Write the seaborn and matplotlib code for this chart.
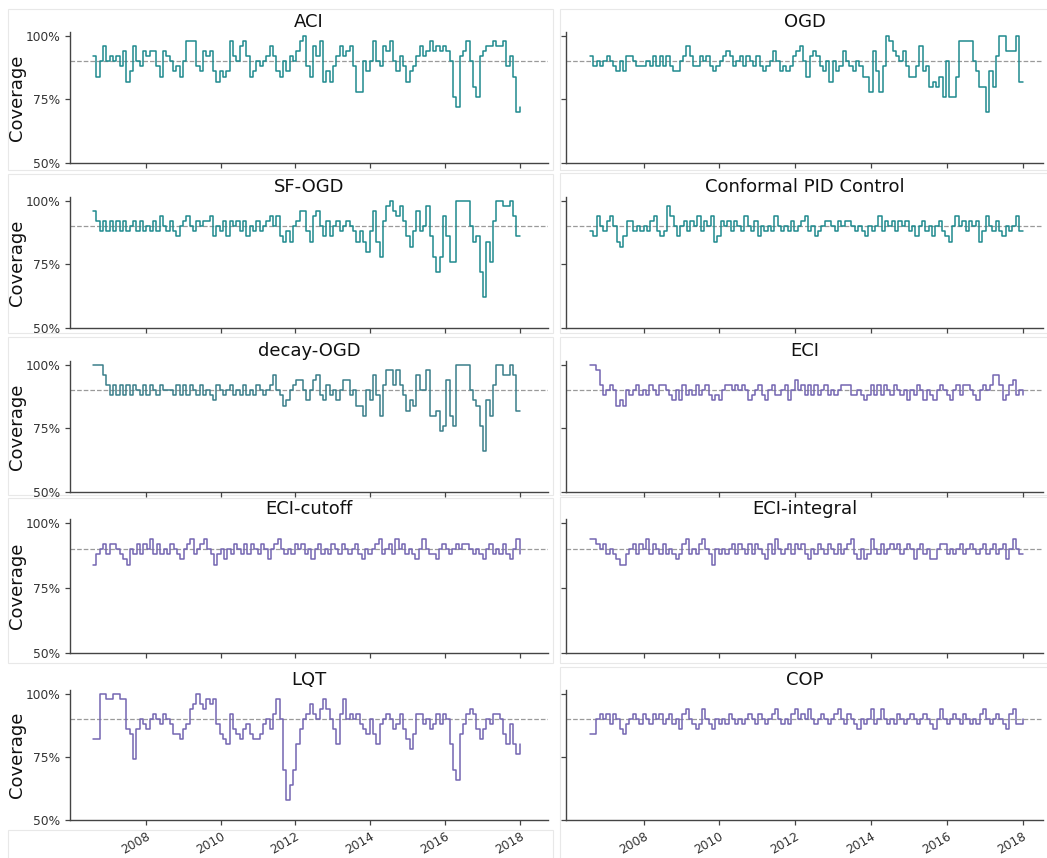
import numpy as np
import pandas as pd
import matplotlib
matplotlib.use("Agg")
import matplotlib.pyplot as plt
import matplotlib.dates as mdates
from matplotlib.ticker import PercentFormatter, FixedLocator, NullFormatter
from matplotlib.patches import Rectangle
import seaborn as sns

# ---------------- data (coverage in %) ----------------
titles = ["ACI", "OGD", "SF-OGD", "Conformal PID Control", "decay-OGD", "ECI",
          "ECI-cutoff", "ECI-integral", "LQT", "COP"]

aci = [92, 84, 90, 96, 90, 92, 90, 92, 88, 94, 82, 86, 96, 90, 88, 94, 92, 94, 94, 88,
       84, 94, 92, 90, 86, 88, 84, 90, 98, 98, 98, 88, 86, 94, 92, 94, 86, 82, 86, 84,
       86, 98, 92, 90, 96, 98, 92, 84, 86, 90, 88, 90, 92, 96, 92, 86, 84, 90, 86, 92,
       90, 94, 98, 100, 88, 84, 96, 92, 98, 82, 86, 82, 88, 92, 96, 92, 94, 96, 88, 78,
       78, 90, 86, 90, 98, 90, 88, 96, 94, 98, 90, 86, 92, 88, 82, 86, 88, 92, 96, 92,
       94, 98, 94, 96, 94, 96, 94, 90, 76, 72, 92, 94, 98, 90, 80, 76, 92, 94, 96, 96,
       98, 96, 96, 98, 88, 92, 84, 70, 72]

ogd = [92, 88, 90, 88, 90, 92, 90, 88, 86, 90, 86, 92, 92, 90, 88, 88, 88, 90, 88, 92,
       88, 92, 88, 92, 88, 86, 86, 90, 92, 96, 92, 88, 88, 92, 90, 92, 88, 86, 88, 90,
       92, 94, 92, 88, 90, 92, 88, 92, 90, 88, 92, 88, 86, 88, 90, 94, 90, 86, 88, 86,
       88, 92, 94, 96, 90, 84, 92, 94, 92, 88, 86, 90, 82, 90, 86, 88, 94, 90, 88, 86,
       90, 88, 84, 84, 78, 94, 86, 78, 88, 100, 98, 94, 92, 90, 94, 88, 84, 84, 88, 96,
       86, 88, 80, 82, 80, 84, 76, 90, 76, 76, 84, 98, 98, 98, 98, 90, 86, 80, 80, 70,
       86, 80, 92, 100, 100, 94, 94, 94, 100, 82, 82]

sf_ogd = [96, 92, 88, 92, 88, 92, 88, 92, 88, 92, 88, 90, 92, 88, 92, 88, 90, 88, 92, 88,
          94, 90, 88, 92, 88, 86, 90, 92, 94, 90, 88, 92, 90, 92, 92, 94, 86, 90, 88, 92,
          86, 92, 90, 92, 88, 92, 86, 90, 88, 92, 88, 90, 92, 94, 90, 94, 86, 84, 88, 84,
          90, 92, 96, 96, 88, 84, 94, 96, 90, 86, 92, 86, 90, 92, 88, 90, 92, 90, 88, 84,
          88, 84, 80, 88, 96, 84, 78, 92, 98, 100, 96, 94, 98, 92, 86, 82, 88, 96, 88, 90,
          98, 86, 78, 72, 78, 94, 86, 76, 76, 100, 100, 100, 100, 90, 84, 86, 72, 62, 84, 76,
          92, 100, 100, 98, 98, 100, 94, 86, 86]

pid = [88, 86, 94, 90, 88, 92, 94, 90, 84, 82, 86, 92, 92, 88, 90, 88, 90, 88, 92, 94,
       88, 86, 88, 98, 94, 90, 86, 90, 92, 88, 92, 90, 94, 88, 92, 90, 94, 84, 86, 92,
       90, 92, 88, 92, 90, 88, 94, 90, 88, 92, 86, 90, 88, 90, 88, 94, 90, 88, 90, 88,
       92, 88, 90, 92, 94, 88, 90, 86, 88, 90, 92, 92, 90, 88, 92, 90, 92, 92, 90, 88,
       90, 88, 86, 90, 88, 90, 94, 88, 92, 90, 92, 88, 92, 90, 92, 88, 90, 86, 90, 92,
       88, 90, 86, 90, 92, 88, 86, 84, 90, 94, 90, 92, 88, 92, 90, 92, 84, 88, 94, 90,
       88, 92, 88, 86, 90, 88, 90, 94, 88, 88]

decay_ogd = [100, 100, 100, 96, 92, 88, 92, 88, 92, 88, 92, 88, 92, 90, 88, 92, 88, 92, 90, 88,
             92, 90, 90, 90, 88, 92, 88, 92, 88, 92, 90, 88, 92, 88, 90, 88, 86, 92, 90, 88,
             90, 92, 88, 90, 88, 92, 88, 90, 88, 92, 90, 88, 90, 92, 96, 90, 88, 84, 86, 90,
             92, 94, 94, 90, 86, 90, 94, 96, 88, 86, 92, 88, 90, 86, 90, 94, 94, 88, 90, 84,
             84, 80, 90, 86, 96, 88, 80, 92, 98, 98, 92, 98, 92, 88, 82, 86, 84, 96, 90, 90,
             98, 80, 80, 82, 74, 76, 94, 80, 76, 100, 100, 100, 100, 90, 86, 84, 76, 66, 86, 80,
             92, 100, 100, 96, 96, 100, 96, 82, 82]

eci = [100, 100, 98, 92, 88, 90, 92, 90, 84, 86, 84, 90, 88, 90, 92, 88, 90, 88, 92, 90,
       88, 92, 92, 90, 88, 86, 90, 86, 92, 88, 90, 88, 92, 88, 90, 92, 88, 86, 88, 86,
       90, 92, 92, 90, 92, 90, 92, 90, 86, 88, 90, 92, 88, 86, 90, 92, 88, 88, 90, 92,
       86, 90, 94, 90, 92, 88, 92, 88, 92, 88, 90, 92, 88, 90, 88, 90, 92, 92, 92, 88,
       88, 90, 88, 86, 88, 92, 88, 92, 88, 92, 90, 88, 92, 90, 88, 90, 86, 90, 88, 92,
       90, 86, 90, 88, 86, 90, 92, 90, 88, 86, 90, 92, 88, 92, 92, 90, 88, 86, 90, 92,
       90, 92, 96, 96, 92, 86, 88, 92, 94, 88, 90, 88]

eci_cutoff = [84, 88, 90, 92, 88, 92, 92, 90, 88, 86, 84, 90, 88, 92, 88, 92, 90, 94, 88, 92,
              88, 90, 88, 92, 90, 88, 86, 90, 92, 94, 88, 90, 92, 94, 90, 88, 84, 88, 90, 86,
              90, 88, 92, 90, 88, 92, 88, 92, 90, 88, 92, 90, 86, 90, 92, 94, 90, 88, 90, 88,
              92, 90, 92, 88, 90, 86, 90, 92, 88, 90, 88, 92, 90, 88, 92, 90, 88, 90, 92, 88,
              86, 90, 88, 90, 92, 94, 88, 90, 92, 88, 94, 90, 92, 88, 90, 88, 86, 90, 94, 90,
              88, 88, 86, 90, 92, 90, 88, 90, 92, 90, 92, 92, 90, 88, 90, 88, 86, 90, 92, 88,
              90, 88, 92, 88, 86, 90, 94, 88]

eci_integral = [94, 94, 92, 90, 92, 88, 90, 88, 86, 84, 84, 88, 90, 92, 88, 92, 90, 94, 88, 92,
                90, 88, 92, 88, 90, 88, 86, 88, 92, 94, 88, 90, 88, 92, 94, 90, 88, 84, 90, 88,
                90, 88, 90, 92, 88, 92, 90, 88, 92, 88, 92, 90, 88, 86, 92, 88, 94, 90, 88, 90,
                92, 88, 92, 90, 92, 88, 86, 90, 88, 92, 90, 88, 92, 90, 88, 92, 88, 90, 92, 94,
                88, 86, 90, 86, 88, 94, 90, 88, 92, 88, 90, 92, 90, 92, 88, 90, 92, 90, 86, 90,
                92, 88, 90, 86, 86, 90, 92, 92, 88, 90, 88, 90, 92, 88, 90, 92, 90, 88, 90, 92,
                88, 90, 92, 88, 90, 92, 86, 90, 94, 90, 88, 88]

lqt = [82, 82, 100, 100, 98, 98, 100, 100, 98, 98, 86, 84, 74, 86, 90, 88, 86, 90, 92, 90,
       88, 92, 90, 88, 84, 84, 82, 86, 88, 94, 96, 100, 96, 94, 98, 96, 98, 88, 84, 82,
       80, 92, 86, 84, 82, 86, 88, 84, 82, 82, 84, 88, 90, 86, 92, 98, 90, 70, 58, 64,
       70, 80, 86, 90, 92, 96, 92, 90, 94, 98, 94, 90, 86, 80, 92, 98, 90, 92, 90, 92,
       88, 86, 84, 90, 84, 80, 88, 90, 92, 90, 86, 88, 92, 86, 82, 78, 84, 92, 92, 88,
       90, 86, 88, 92, 88, 92, 90, 80, 70, 66, 84, 88, 92, 94, 92, 86, 82, 86, 90, 88,
       92, 92, 90, 84, 80, 88, 80, 76, 80]

cop = [84, 84, 90, 92, 90, 92, 88, 92, 90, 86, 84, 88, 90, 92, 90, 88, 92, 90, 88, 92,
       90, 92, 88, 90, 92, 88, 90, 86, 92, 94, 90, 88, 86, 88, 94, 90, 88, 86, 90, 88,
       90, 88, 92, 90, 88, 90, 88, 90, 92, 90, 88, 92, 90, 88, 90, 92, 94, 90, 88, 90,
       88, 92, 94, 90, 92, 90, 94, 90, 88, 90, 92, 90, 88, 90, 92, 94, 90, 88, 92, 90,
       88, 86, 90, 88, 90, 94, 88, 90, 94, 90, 88, 90, 88, 92, 90, 88, 90, 92, 90, 88,
       90, 92, 90, 88, 86, 90, 94, 90, 88, 90, 92, 90, 88, 92, 90, 88, 90, 88, 92, 94,
       90, 88, 90, 92, 90, 88, 86, 92, 94, 88, 88, 90]

series = [aci, ogd, sf_ogd, pid, decay_ogd, eci, eci_cutoff, eci_integral, lqt, cop]
start_date, end_date = "2006-08-01", "2018-01-01"
target = 0.90
tick_years = [2008, 2010, 2012, 2014, 2016, 2018]

# ---------------- style ----------------
sns.set_style("ticks")
plt.rcParams['font.family'] = ['DejaVu Sans']

teal = "#1f8a8e"
teal_gray = "#3a7e8a"
purple = "#7466b2"
colors = [teal, teal, teal, teal, teal_gray, purple, purple, purple, purple, purple]

W, H = 1047, 858
fig = plt.figure(figsize=(W / 100, H / 100), dpi=100)

rows_px = [(32, 163), (197, 328), (361, 492), (519, 653), (690, 820)]
cols_px = [(70, 548), (566, 1043)]


def dec_year(y):
    yi = int(np.floor(y))
    return pd.Timestamp(year=yi, month=1, day=1) + pd.Timedelta(days=(y - yi) * 365.25)


xlims = [(dec_year(2005.965), dec_year(2018.76)), (dec_year(2005.95), dec_year(2018.54))]

# faint panel frames (composite figure look)
frames = [
    (8, 9, 553, 170), (8, 174, 553, 333), (8, 337, 553, 495), (8, 498, 553, 663), (8, 830, 553, 900),
    (560, 9, 1060, 170), (560, 173, 1060, 333), (560, 337, 1060, 495), (560, 497, 1060, 663),
    (560, 667, 1060, 900),
]
for (x0, y0, x1, y1) in frames:
    fig.add_artist(Rectangle((x0 / W, 1 - y1 / H), (x1 - x0) / W, (y1 - y0) / H,
                             transform=fig.transFigure, fill=False, ec="#e8e8e8", lw=0.8,
                             zorder=-5))

tick_pos = [mdates.date2num(pd.Timestamp(year=y, month=1, day=1)) for y in tick_years]

for i, (title, vals) in enumerate(zip(titles, series)):
    r, c = divmod(i, 2)
    top, bot = rows_px[r]
    x0, x1 = cols_px[c]
    ax = fig.add_axes([x0 / W, 1 - bot / H, (x1 - x0) / W, (bot - top) / H])
    ax.patch.set_alpha(0)
    df = pd.DataFrame({
        "date": pd.date_range(start_date, end_date, periods=len(vals)),
        "coverage": np.array(vals) / 100.0,
    })
    sns.lineplot(data=df, x="date", y="coverage", ax=ax, color=colors[i],
                 lw=1.1, drawstyle="steps-post", estimator=None)
    ax.axhline(target, color="#9a9a9a", ls="--", lw=0.9, zorder=0)
    ax.set_ylim(0.5, 1.015)
    ax.set_xlim(*xlims[c])
    ax.set_title(title, fontsize=13, pad=3.5, color="#111111")
    ax.set_yticks([0.5, 0.75, 1.0])
    ax.yaxis.set_major_formatter(PercentFormatter(1.0, decimals=0))
    ax.xaxis.set_major_locator(FixedLocator(tick_pos))
    ax.tick_params(axis="both", labelsize=8.8, colors="#444444", labelcolor="#333333",
                   length=3.5, width=0.9)
    ax.set_xlabel("")
    if c == 0:
        ax.set_ylabel("Coverage", fontsize=13, color="#111111", labelpad=0)
    else:
        ax.set_ylabel("")
        ax.yaxis.set_major_formatter(NullFormatter())
    if r == 4:
        ax.set_xticklabels([str(y) for y in tick_years], rotation=30, ha="right",
                           rotation_mode="anchor")
    else:
        ax.xaxis.set_major_formatter(NullFormatter())
    for s in ["top", "right"]:
        ax.spines[s].set_visible(False)
    for s in ["left", "bottom"]:
        ax.spines[s].set_color("#444444")
        ax.spines[s].set_linewidth(1.0)

fig.savefig("out.png", dpi=100)
